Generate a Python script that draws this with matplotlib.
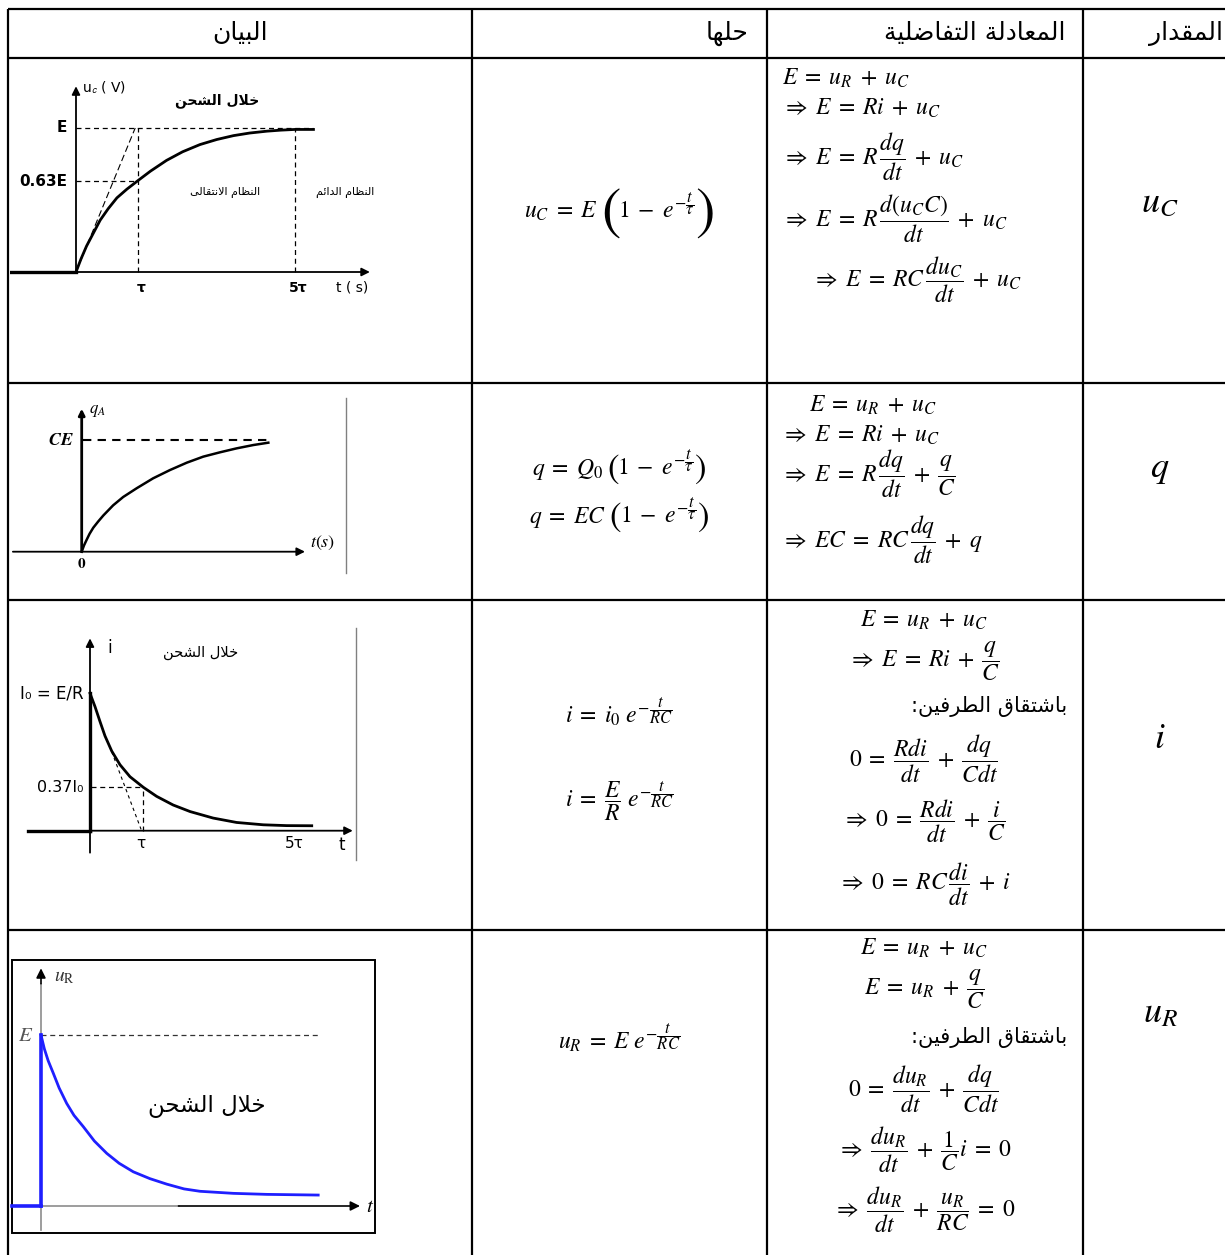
import matplotlib

matplotlib.use("Agg")

import matplotlib.pyplot as plt
from matplotlib.patches import Rectangle

plt.rcParams["font.family"] = ["DejaVu Sans"]
plt.rcParams["mathtext.fontset"] = "stix"

W, H = 1225, 1255

# ---- table content -------------------------------------------------------
HEADERS = ["البيان", "حلها", "المعادلة التفاضلية", "المقدار"]
QUANTITIES = [r"$u_C$", r"$q$", r"$i$", r"$u_R$"]
# a tuple is (prefix, part inside the big brackets)
SOLUTIONS = [
    [(r"$u_C = E$", r"$1 - e^{-\dfrac{t}{\tau}}$")],
    [(r"$q = Q_0$", r"$1 - e^{-\dfrac{t}{\tau}}$"),
     (r"$q = EC$", r"$1 - e^{-\dfrac{t}{\tau}}$")],
    [r"$i = i_0\ e^{-\dfrac{t}{RC}}$", r"$i = \dfrac{E}{R}\ e^{-\dfrac{t}{RC}}$"],
    [r"$u_R = E\ e^{-\dfrac{t}{RC}}$"],
]
DERIVE = "باشتقاق الطرفين:"
EQUATIONS = [
    [r"$E = u_R + u_C$", r"$\Rightarrow E = Ri + u_C$",
     r"$\Rightarrow E = R\,\dfrac{dq}{dt} + u_C$",
     r"$\Rightarrow E = R\,\dfrac{d(u_C C)}{dt} + u_C$",
     r"$\Rightarrow E = RC\,\dfrac{du_C}{dt} + u_C$"],
    [r"$E = u_R + u_C$", r"$\Rightarrow E = Ri + u_C$",
     r"$\Rightarrow E = R\,\dfrac{dq}{dt} + \dfrac{q}{C}$",
     r"$\Rightarrow EC = RC\,\dfrac{dq}{dt} + q$"],
    [r"$E = u_R + u_C$", r"$\Rightarrow E = Ri + \dfrac{q}{C}$", DERIVE,
     r"$0 = \dfrac{Rdi}{dt} + \dfrac{dq}{Cdt}$",
     r"$\Rightarrow 0 = \dfrac{Rdi}{dt} + \dfrac{i}{C}$",
     r"$\Rightarrow 0 = RC\,\dfrac{di}{dt} + i$"],
    [r"$E = u_R + u_C$", r"$E = u_R + \dfrac{q}{C}$", DERIVE,
     r"$0 = \dfrac{du_R}{dt} + \dfrac{dq}{Cdt}$",
     r"$\Rightarrow \dfrac{du_R}{dt} + \dfrac{1}{C}i = 0$",
     r"$\Rightarrow \dfrac{du_R}{dt} + \dfrac{u_R}{RC} = 0$"],
]

# ---- curves --------------------------------------------------------------
# u_C(t): t in tau, u in E
UC_T = [0, 0.08, 0.17, 0.28, 0.39, 0.52, 0.66, 0.82, 1.0, 1.2, 1.46, 1.72, 2.0, 2.27, 2.54, 2.8, 3.08, 3.3, 3.53, 3.83]
UC_V = [0, 0.09, 0.18, 0.27, 0.36, 0.44, 0.515, 0.575, 0.635, 0.70, 0.775, 0.835, 0.885, 0.92, 0.947, 0.965, 0.978, 0.985, 0.99, 0.99]
UC_TICKS = [1.0, 3.53]
UC_TICKLABELS = ["τ", "5τ"]
UC_LEVEL = 0.63

# q(t): arbitrary t units, q in CE
Q_T = [0, 0.06, 0.13, 0.21, 0.31, 0.44, 0.58, 0.84, 1.11, 1.47, 1.91, 2.36, 2.81, 3.25, 3.70, 4.14, 4.59, 4.99]
Q_V = [0, 0.055, 0.105, 0.16, 0.215, 0.27, 0.325, 0.415, 0.49, 0.568, 0.657, 0.731, 0.797, 0.851, 0.890, 0.925, 0.955, 0.976]

# i(t): t in tau, i in I0
I_T = [0, 0.094, 0.188, 0.281, 0.407, 0.563, 0.75, 1.0, 1.25, 1.56, 1.88, 2.31, 2.75, 3.25, 3.69, 4.16]
I_V = [1.0, 0.903, 0.794, 0.69, 0.58, 0.48, 0.393, 0.316, 0.25, 0.187, 0.139, 0.092, 0.06, 0.043, 0.037, 0.036]
I_TICKS = [1.0, 3.88]
I_TICKLABELS = ["τ", "5τ"]
I_LEVEL = 0.316

# u_R(t): arbitrary t units, u in E
UR_T = [0, 0.06, 0.13, 0.224, 0.33, 0.467, 0.6, 0.769, 0.97, 1.195, 1.42, 1.678, 1.98, 2.285, 2.6, 2.891, 3.496, 4.104, 5.04]
UR_V = [1.0, 0.92, 0.85, 0.776, 0.69, 0.60, 0.53, 0.464, 0.38, 0.308, 0.25, 0.20, 0.16, 0.128, 0.10, 0.086, 0.074, 0.068, 0.064]

# ---- arabic shaping (matplotlib has no complex text layout) --------------
def _forms(base, n):
    f = [chr(base + k) for k in range(n)]
    return tuple(f + [None] * (4 - n))


FORMS = {
    "ا": _forms(0xFE8D, 2), "ب": _forms(0xFE8F, 4), "ة": _forms(0xFE93, 2),
    "ت": _forms(0xFE95, 4), "ح": _forms(0xFEA1, 4), "خ": _forms(0xFEA5, 4),
    "د": _forms(0xFEA9, 2), "ر": _forms(0xFEAD, 2), "ش": _forms(0xFEB5, 4),
    "ض": _forms(0xFEBD, 4), "ط": _forms(0xFEC1, 4), "ظ": _forms(0xFEC5, 4),
    "ع": _forms(0xFEC9, 4), "ف": _forms(0xFED1, 4), "ق": _forms(0xFED5, 4),
    "ل": _forms(0xFEDD, 4), "م": _forms(0xFEE1, 4), "ن": _forms(0xFEE5, 4),
    "ه": _forms(0xFEE9, 4), "ي": _forms(0xFEF1, 4), "ئ": _forms(0xFE89, 4),
    "ى": ("\uFEEF", "\uFEF0", "\uFBE8", "\uFBE9"),
}
DUAL = set("بتحخشضطظعفقلمنهيئى")


def ar(text):
    out = []
    i = 0
    while i < len(text):
        c = text[i]
        if c not in FORMS:
            out.append(c)
            i += 1
            continue
        prev = text[i - 1] if i > 0 else ""
        nxt = text[i + 1] if i + 1 < len(text) else ""
        join_prev = prev in DUAL
        if c == "ل" and nxt == "ا":
            out.append("\uFEFC" if join_prev else "\uFEFB")
            i += 2
            continue
        join_next = c in DUAL and nxt in FORMS
        iso, fin, ini, med = FORMS[c]
        if join_prev and join_next:
            out.append(med)
        elif join_prev:
            out.append(fin)
        elif join_next:
            out.append(ini)
        else:
            out.append(iso)
        i += 1
    return "".join(reversed(out))


def spaced(s):
    # mathtext packs operators tightly, the reference has word-like spacing
    s = s.replace(" = ", r"\;=\;").replace(" + ", r"\;+\;").replace(" - ", r"\;-\;")
    return s.replace(r"\Rightarrow ", r"\Rightarrow\; ")


fig = plt.figure(figsize=(W / 100, H / 100), dpi=100)
ax = fig.add_axes([0, 0, 1, 1])
ax.set_xlim(0, W)
ax.set_ylim(H, 0)
ax.axis("off")
renderer = fig.canvas.get_renderer()


def inset(box, origin, unit):
    L, T, R, B = box
    x0, y0 = origin
    ux, uy = unit
    a = fig.add_axes([L / W, 1 - B / H, (R - L) / W, (B - T) / H])
    a.set_xlim((L - x0) / ux, (R - x0) / ux)
    a.set_ylim((y0 - B) / uy, (y0 - T) / uy)
    a.axis("off")
    a.patch.set_visible(False)
    return a


def arrow(a, x0, y0, x1, y1, lw=1.2, color="k", ms=12):
    a.annotate("", xy=(x1, y1), xytext=(x0, y0),
               arrowprops=dict(arrowstyle="-|>", lw=lw, color=color,
                               mutation_scale=ms, shrinkA=0, shrinkB=0))


def bracketed(prefix, inner, xc, y, fs, pfs):
    # mathtext \left( stays small here, so the brackets are set as big glyphs
    axis_y = y - 0.27 * fs * 100 / 72
    parts = [
        ax.text(0, y, spaced(prefix), fontsize=fs, ha="left", va="baseline"),
        ax.text(0, axis_y, "$($", fontsize=pfs, ha="left", va="center"),
        ax.text(0, y, spaced(inner), fontsize=fs, ha="left", va="baseline"),
        ax.text(0, axis_y, "$)$", fontsize=pfs, ha="left", va="center"),
    ]
    widths = [p.get_window_extent(renderer).width for p in parts]
    gaps = [3, -2, 0, 0]
    x = xc - (sum(widths) + sum(gaps)) / 2
    for p, w, gp in zip(parts, widths, gaps):
        p.set_x(x)
        x += w + gp


# ---- table grid ----------------------------------------------------------
col_x = [8, 472, 767, 1083]
row_y = [9, 58, 383, 600, 930]
for y in row_y:
    ax.plot([col_x[0], W], [y, y], color="k", lw=1.6, solid_capstyle="butt")
for x in col_x:
    ax.plot([x, x], [row_y[0], H], color="k", lw=1.6, solid_capstyle="butt")

hdr_x = [240, 748, 1065, 1223]
hdr_ha = ["center", "right", "right", "right"]
for txt, x, ha in zip(HEADERS, hdr_x, hdr_ha):
    ax.text(x, 33, ar(txt), fontsize=18, ha=ha, va="center")

# quantities column
q_base = [212, 477, 748, 1022]
for txt, y in zip(QUANTITIES, q_base):
    ax.text(1160, y, txt, fontsize=26, ha="center", va="baseline")

# solutions column
sol_base = [[218], [475, 523], [722, 807], [1048]]
paren_fs = [42, 25, 25, 25]
for r, (lines, ys) in enumerate(zip(SOLUTIONS, sol_base)):
    for txt, y in zip(lines, ys):
        if isinstance(txt, tuple):
            bracketed(txt[0], txt[1], 619, y, 17, paren_fs[r])
        else:
            ax.text(619, y, spaced(txt), fontsize=17, ha="center", va="baseline")

# differential equations column
eq_base = [[85, 115, 165, 227, 287],
           [412, 442, 482, 548],
           [627, 667, 712, 767, 827, 890],
           [955, 995, 1043, 1097, 1157, 1217]]
eq_left = [[782, 782, 782, 782, 812], [809, 781, 781, 781]]
for r, (lines, ys) in enumerate(zip(EQUATIONS, eq_base)):
    for k, (txt, y) in enumerate(zip(lines, ys)):
        if txt == DERIVE:
            ax.text(1067, y, ar(txt), fontsize=15, ha="right", va="baseline")
        elif r < 2:
            ax.text(eq_left[r][k], y, spaced(txt), fontsize=17, ha="left", va="baseline")
        else:
            ax.text(924, y, spaced(txt), fontsize=17, ha="center", va="baseline")

# ---- graph 1: u_C ---------------------------------------------------------
g = inset((10, 80, 380, 300), (76, 272), (62, 144))
g.plot([-1.06, 0], [0, 0], color="k", lw=2.4)
arrow(g, 0, 0, 4.74, 0, lw=1.3)
arrow(g, 0, 0, 0, 1.29, lw=1.3)
g.plot(UC_T, UC_V, color="k", lw=2.0)
dash = dict(color="k", lw=0.9, ls=(0, (4, 3)))
g.plot([0, 3.82], [1, 1], **dash)
g.plot([0, UC_TICKS[0]], [UC_LEVEL, UC_LEVEL], **dash)
for t in UC_TICKS:
    g.plot([t, t], [0, 1], **dash)
g.plot([0, 0.955], [0, 1], color="k", lw=0.8, ls=(0, (6, 3)))
g.text(-0.14, 1, "E", fontsize=11, weight="bold", ha="right", va="center")
g.text(-0.14, UC_LEVEL, "0.63E", fontsize=11, weight="bold", ha="right", va="center")
for t, lab in zip(UC_TICKS, UC_TICKLABELS):
    g.text(t + 0.05, -0.06, lab, fontsize=10, weight="bold", ha="center", va="top")
g.text(4.45, -0.06, "t ( s)", fontsize=10, ha="center", va="top")
g.text(0.09, 1.28, r"u$_{\mathsf{c}}$ ( V)", fontsize=10, ha="left", va="center")
g.text(2.27, 1.19, ar("خلال الشحن"), fontsize=10, weight="bold", ha="center", va="center")
g.text(2.4, 0.55, ar("النظام الانتقالى"), fontsize=8, ha="center", va="center")
g.text(4.34, 0.55, ar("النظام الدائم"), fontsize=8, ha="center", va="center")

# ---- graph 2: q -----------------------------------------------------------
g = inset((10, 392, 352, 578), (81.7, 551.7), (37.4, 111.7))
arrow(g, -1.84, 0, 5.97, 0, lw=1.3)
arrow(g, 0, 0, 0, 1.28, lw=2.0, ms=9)
g.plot(Q_T, Q_V, color="k", lw=1.8)
g.plot([0.03, 4.98], [1, 1], color="k", lw=1.5, ls=(0, (4, 3)))
g.text(-0.2, 1.0, r"$\boldsymbol{CE}$", fontsize=13, ha="right", va="center")
g.text(0.2, 1.27, r"$q_{A}$", fontsize=12, ha="left", va="center")
g.text(0, -0.04, r"$\mathbf{0}$", fontsize=11, ha="center", va="top")
g.text(6.1, 0.08, r"$t(s)$", fontsize=13, ha="left", va="center")
g.plot([7.07, 7.07], [-0.19, 1.38], color="#808080", lw=1.0)

# ---- graph 3: i -----------------------------------------------------------
g = inset((6, 620, 365, 862), (90, 830.7), (53.3, 137.4))
g.plot([-1.16, 0], [0, 0], color="k", lw=2.4)
arrow(g, 0, 0, 4.93, 0, lw=1.3)
arrow(g, 0, -0.16, 0, 1.40, lw=1.3)
g.plot([0, 0], [0, 1], color="k", lw=2.4)
g.plot(I_T, I_V, color="k", lw=2.0)
g.plot([0.02, I_TICKS[0]], [I_LEVEL, I_LEVEL], **dash)
g.plot([I_TICKS[0], I_TICKS[0]], [0, I_LEVEL], **dash)
g.plot([0.407, 0.958], [0.575, 0.01], color="k", lw=0.8, ls=(0, (3, 3)))
g.text(0.32, 1.33, "i", fontsize=12, ha="left", va="center")
g.text(2.08, 1.30, ar("خلال الشحن"), fontsize=10.5, ha="center", va="center")
g.text(-0.12, 1.0, "I₀ = E/R", fontsize=12, ha="right", va="center")
g.text(-0.12, I_LEVEL, "0.37I₀", fontsize=11.5, ha="right", va="center")
for t, lab in zip(I_TICKS, I_TICKLABELS):
    g.text(t - 0.04, -0.04, lab, fontsize=11, ha="center", va="top")
g.text(4.73, -0.04, "t", fontsize=12, ha="center", va="top")
g.plot([4.99, 4.99], [-0.21, 1.475], color="#808080", lw=1.0)

# ---- graph 4: u_R ---------------------------------------------------------
g = inset((6, 952, 382, 1240), (41, 1206), (55, 171))
g.add_patch(Rectangle((-0.527, -0.158), 6.6, 1.597, fill=False, ec="k", lw=1.4))
g.plot([-0.527, 2.5], [0, 0], color="#8c8c8c", lw=1.2)
arrow(g, 2.5, 0, 5.8, 0, lw=1.2, ms=14)
g.plot([0, 0], [-0.14, 1.3], color="#8c8c8c", lw=1.2)
arrow(g, 0, 1.3, 0, 1.39, lw=1.2, ms=14)
g.plot([0, 5.04], [1, 1], color="#333333", lw=0.9, ls=(0, (4, 3)))
blue = "#1f1fff"
g.plot([-0.527, 0], [0, 0], color=blue, lw=2.6)
g.plot([0, 0], [0, 1], color=blue, lw=2.6)
g.plot(UR_T, UR_V, color=blue, lw=2.0)
g.text(-0.28, 1.0, r"$E$", fontsize=15, color="#555555", ha="center", va="center")
g.text(0.24, 1.34, r"$u_{\mathrm{R}}$", fontsize=14, color="#333333", ha="left", va="center")
g.text(5.9, 0.0, r"$t$", fontsize=15, ha="left", va="center")
g.text(3.02, 0.58, ar("خلال الشحن"), fontsize=16.5, ha="center", va="center")

fig.savefig("out.png", dpi=100)
